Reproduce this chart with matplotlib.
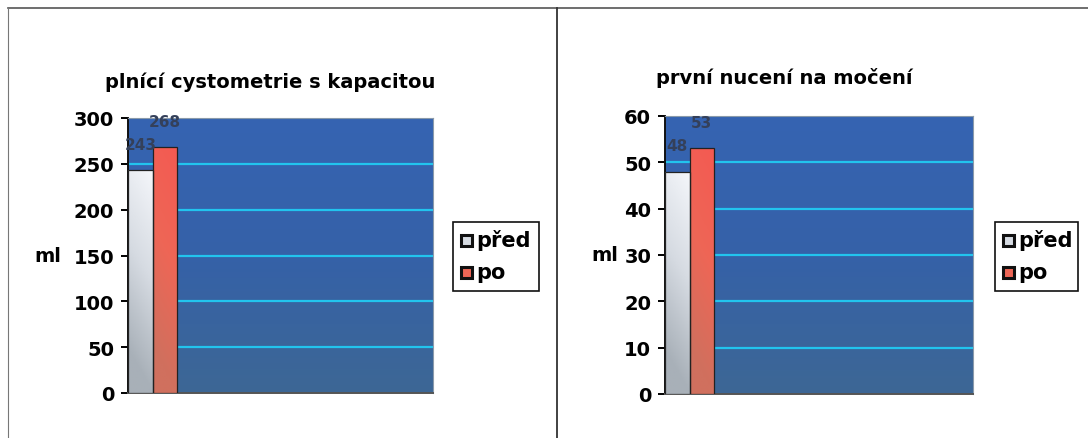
import numpy as np
import matplotlib
matplotlib.use("Agg")
import matplotlib.pyplot as plt
from matplotlib.colors import LinearSegmentedColormap
from matplotlib.patches import Rectangle
from matplotlib.lines import Line2D

plt.rcParams["font.family"] = ["DejaVu Sans"]
plt.rcParams["font.weight"] = "bold"

series = ["před", "po"]
titles = ["plnící cystometrie s kapacitou", "první nucení na močení"]
values_cap = [243, 268]
values_first = [48, 53]
ymax = [300, 60]
ystep = [50, 10]
ylabel = "ml"

W, H = 1088, 439
fig = plt.figure(figsize=(W / 100, H / 100), dpi=100)

# panel frame lines
frame = fig.add_axes([0, 0, 1, 1], zorder=-5)
frame.set_xlim(0, W)
frame.set_ylim(H, 0)
frame.axis("off")
frame.add_line(Line2D([8, W], [9, 9], color="#555555", lw=1.2))
frame.add_line(Line2D([8, 8], [9, H], color="#777777", lw=0.8))
frame.add_line(Line2D([557, 557], [9, H], color="#333333", lw=1.3))

bg_cmap = LinearSegmentedColormap.from_list("bg", ["#3664b2", "#3561a8", "#3d6795"])
pred_cmap = LinearSegmentedColormap.from_list("pred", ["#f4f6fa", "#d6dbe2", "#a8b0b8"])
po_cmap = LinearSegmentedColormap.from_list("po", ["#f45a52", "#ee6656", "#d0705e"])

axes_px = [(128, 433, 119, 394), (665, 973, 117, 395)]
legend_px = [(453, 539, 223, 292), (995, 1078, 223, 292)]
ylabel_x = [-0.262, -0.195]
title_x = [270, 784]
title_y = [82, 78]
title_size = [14, 14]


def grad_bar(ax, x0, h, cmap):
    if h <= 0:
        return
    # vertical shade plus a slight darker left edge
    gv = np.linspace(0, 1, 64).reshape(-1, 1)
    gh = np.linspace(0.18, 0, 16).reshape(1, -1)
    grad = np.clip(gv + gh, 0, 1)
    im = ax.imshow(grad, cmap=cmap, aspect="auto", extent=(x0, x0 + 1, 0, h),
                   origin="upper", vmin=0, vmax=1, zorder=3)
    im.set_clip_path(Rectangle((x0, 0), 1, h, transform=ax.transData))
    ax.add_patch(Rectangle((x0, 0), 1, h, fill=False, ec="#222222", lw=0.9, zorder=4))


for i, vals in enumerate([values_cap, values_first]):
    x0, x1, y0, y1 = axes_px[i]
    ax = fig.add_axes([x0 / W, 1 - y1 / H, (x1 - x0) / W, (y1 - y0) / H])
    xmax = (x1 - x0) / 24.5
    ax.set_xlim(0, xmax)
    ax.set_ylim(0, ymax[i])

    # plot area gradient
    g = np.linspace(0, 1, 128).reshape(-1, 1)
    ax.imshow(g, cmap=bg_cmap, aspect="auto", extent=(0, xmax, 0, ymax[i]),
              origin="upper", zorder=0)
    for yv in np.arange(ystep[i], ymax[i], ystep[i]):
        ax.axhline(yv, color="#22c4ee", lw=1.6, zorder=1)

    grad_bar(ax, 0, vals[0], pred_cmap)
    grad_bar(ax, 1, vals[1], po_cmap)
    for k, v in enumerate(vals):
        ax.text(k + 0.5, v + ymax[i] * 0.095, f"{v}", ha="center", va="center",
                fontsize=11, color="#34405a", zorder=5)

    ax.set_xticks([])
    ax.set_yticks(np.arange(0, ymax[i] + 1, ystep[i]))
    ax.tick_params(axis="y", direction="out", length=5, width=1.4,
                   labelsize=14, pad=5)
    for lab in ax.get_yticklabels():
        lab.set_fontweight("bold")
    ax.spines["left"].set_color("#111111")
    ax.spines["left"].set_linewidth(1.4)
    ax.spines["bottom"].set_color("#555555")
    ax.spines["bottom"].set_linewidth(1.4)
    ax.spines["top"].set_color("#8a9aaa")
    ax.spines["right"].set_color("#8a9aaa")

    ax.text(ylabel_x[i], 0.5, ylabel, transform=ax.transAxes,
            ha="center", va="center", fontsize=14, fontweight="bold")

    fig.text(title_x[i] / W, 1 - title_y[i] / H, titles[i], ha="center", va="center",
             fontsize=title_size[i], fontweight="bold")

    # legend box
    lx0, lx1, ly0, ly1 = legend_px[i]
    frame.add_patch(Rectangle((lx0, ly0), lx1 - lx0, ly1 - ly0, fill=True,
                              fc="white", ec="#111111", lw=1.2, zorder=2))
    for k, (name, cm) in enumerate(zip(series, [pred_cmap, po_cmap])):
        cy = ly0 + 18 + k * 32
        frame.add_patch(Rectangle((lx0 + 8, cy - 5.5), 11, 11, fc=cm(0.5),
                                  ec="#111111", lw=2.2, zorder=3))
        frame.text(lx0 + 23, cy, name, ha="left", va="center", fontsize=15,
                   fontweight="bold", zorder=3)

fig.savefig("out.png", dpi=100, facecolor="white")
